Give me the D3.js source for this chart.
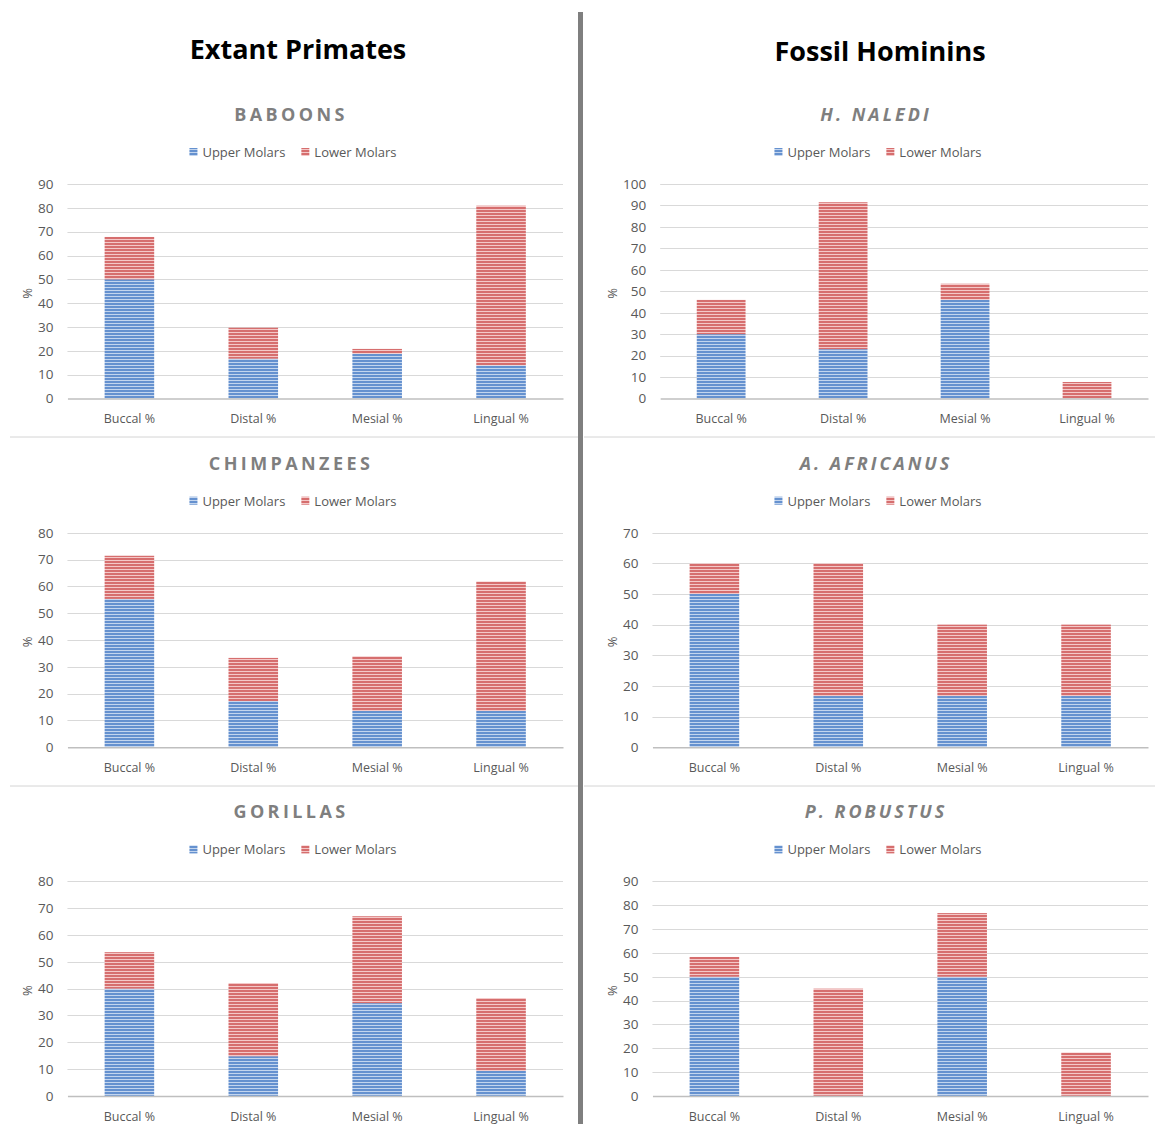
<!DOCTYPE html>
<html>
<head>
<meta charset="utf-8">
<script src="https://cdn.jsdelivr.net/npm/d3@7"></script>
<style>
  body { margin: 0; background: #fff; }
  svg { display: block; }
  text { font-family: "Open Sans", "DejaVu Sans", sans-serif; }
</style>
</head>
<body>
<svg id="chart" width="1155" height="1124"></svg>
<script>
// ---- data ----
const categories = ["Buccal %", "Distal %", "Mesial %", "Lingual %"];
const seriesNames = ["Upper Molars", "Lower Molars"];
const columnTitles = ["Extant Primates", "Fossil Hominins"];

const baboonsUpper = [50, 16.7, 18.8, 13.9];
const baboonsLower = [17.8, 13.0, 2.0, 67.0];

const chimpanzeesUpper = [55.3, 17.2, 13.5, 13.5];
const chimpanzeesLower = [16.1, 16.1, 20.4, 48.3];

const gorillasUpper = [40, 14.8, 34.6, 9.3];
const gorillasLower = [13.6, 27.3, 32.4, 27.2];

const nalediUpper = [30, 23, 46, 0];
const nalediLower = [16, 68.5, 7.5, 7.7];

const africanusUpper = [50, 16.7, 16.7, 16.7];
const africanusLower = [10, 43.3, 23.3, 23.3];

const robustusUpper = [50, 0, 50, 0];
const robustusLower = [8.3, 45, 26.7, 18.2];

// y-axis maxima (ticks every 10)
const axisMax = { baboons: 90, chimpanzees: 80, gorillas: 80, naledi: 100, africanus: 70, robustus: 90 };

const panels = [
  { title: "BABOONS",      italic: false, col: 0, row: 0, upper: baboonsUpper,     lower: baboonsLower,     max: axisMax.baboons },
  { title: "CHIMPANZEES",  italic: false, col: 0, row: 1, upper: chimpanzeesUpper, lower: chimpanzeesLower, max: axisMax.chimpanzees },
  { title: "GORILLAS",     italic: false, col: 0, row: 2, upper: gorillasUpper,    lower: gorillasLower,    max: axisMax.gorillas },
  { title: "H. NALEDI",    italic: true,  col: 1, row: 0, upper: nalediUpper,      lower: nalediLower,      max: axisMax.naledi },
  { title: "A. AFRICANUS", italic: true,  col: 1, row: 1, upper: africanusUpper,   lower: africanusLower,   max: axisMax.africanus },
  { title: "P. ROBUSTUS",  italic: true,  col: 1, row: 2, upper: robustusUpper,    lower: robustusLower,    max: axisMax.robustus }
];

// ---- layout ----
const svg = d3.select("#chart");
const colOffset = 585;
const rowOffset = 348.7;
const colCenter = [291, 876];
const tickFont = 13.5;

// striped fills
const defs = svg.append("defs");
function stripePattern(id, dark, light) {
  const p = defs.append("pattern").attr("id", id)
    .attr("patternUnits", "userSpaceOnUse").attr("width", 6).attr("height", 3);
  p.append("rect").attr("width", 6).attr("height", 3).attr("fill", dark);
  p.append("rect").attr("y", 2).attr("width", 6).attr("height", 1).attr("fill", light);
}
stripePattern("stripeUpper", "#6591cf", "#c3d5ee");
stripePattern("stripeLower", "#d66e6e", "#f4c8c8");
const seriesFill = ["url(#stripeUpper)", "url(#stripeLower)"];
const seriesKeys = ["upper", "lower"];

// column headings
columnTitles.forEach((t, i) => {
  svg.append("text")
    .attr("x", [298, 880][i]).attr("y", [48, 50][i])
    .attr("text-anchor", "middle").attr("dominant-baseline", "central")
    .attr("font-size", 27).attr("font-weight", 700).attr("fill", "#000")
    .text(t);
});

// separators
[437, 786].forEach(y => {
  svg.append("line").attr("x1", 10).attr("x2", 578).attr("y1", y).attr("y2", y)
    .attr("stroke", "#d4d4d4").attr("stroke-width", 1);
  svg.append("line").attr("x1", 584).attr("x2", 1155).attr("y1", y).attr("y2", y)
    .attr("stroke", "#d4d4d4").attr("stroke-width", 1);
});
svg.append("rect").attr("x", 578).attr("y", 12).attr("width", 5).attr("height", 1112)
  .attr("fill", "#7f7f7f");

const measurer = svg.append("text").attr("opacity", 0);
function textWidth(str, size) {
  measurer.attr("font-size", size).text(str);
  return measurer.node().getComputedTextLength();
}

panels.forEach(p => {
  const ox = p.col * colOffset;
  const oy = p.row * rowOffset;
  const g = svg.append("g");

  const top = 184 + oy, bottom = 398.5 + oy;
  const ticks = d3.range(0, p.max + 1, 10);
  const labelStart = 38 + ox;
  const maxW = d3.max(ticks, t => textWidth(String(t), tickFont));
  const plotLeft = labelStart + maxW + 14;
  const plotRight = 563 + ox;

  const x = d3.scaleBand().domain(categories).range([plotLeft, plotRight]).padding(0);
  const y = d3.scaleLinear().domain([0, p.max]).range([bottom, top]);

  // title
  g.append("text")
    .attr("x", colCenter[p.col]).attr("y", 114 + oy)
    .attr("text-anchor", "middle").attr("dominant-baseline", "central")
    .attr("font-size", 18).attr("font-weight", 700)
    .attr("font-style", p.italic ? "italic" : "normal")
    .attr("letter-spacing", p.italic ? "3px" : "3.4px")
    .attr("fill", "#7f7f7f").text(p.title);

  // legend
  const legendY = 152 + oy;
  const itemW = seriesNames.map(s => 13 + textWidth(s, 13));
  const gap = 16;
  const totalW = d3.sum(itemW) + gap;
  let lx = colCenter[p.col] + 2 - totalW / 2;
  seriesNames.forEach((s, i) => {
    g.append("rect").attr("x", lx).attr("y", legendY - 4).attr("width", 8).attr("height", 8)
      .attr("fill", seriesFill[i]);
    g.append("text").attr("x", lx + 13).attr("y", legendY)
      .attr("dominant-baseline", "central").attr("font-size", 13).attr("fill", "#595959")
      .text(s);
    lx += itemW[i] + gap;
  });

  // gridlines
  g.append("g").selectAll("line").data(ticks.filter(t => t > 0)).join("line")
    .attr("x1", plotLeft).attr("x2", plotRight)
    .attr("y1", d => Math.round(y(d)) + 0.5).attr("y2", d => Math.round(y(d)) + 0.5)
    .attr("stroke", "#d9d9d9").attr("stroke-width", 1);

  // y axis labels
  const yAxis = d3.axisLeft(y).tickValues(ticks).tickSize(0).tickPadding(14);
  const ya = g.append("g").attr("transform", `translate(${plotLeft},0)`).call(yAxis);
  ya.select(".domain").remove();
  ya.selectAll("text").attr("font-size", tickFont).attr("fill", "#595959")
    .attr("font-family", "\"Open Sans\", sans-serif");

  // y title
  g.append("text")
    .attr("transform", `translate(${27 + ox},${(top + bottom) / 2 + 2}) rotate(-90)`)
    .attr("text-anchor", "middle").attr("dominant-baseline", "central")
    .attr("font-size", 13).attr("fill", "#595959").text("%");

  // stacked bars
  const rows = categories.map((c, i) => ({ cat: c, upper: p.upper[i], lower: p.lower[i] }));
  const stacked = d3.stack().keys(seriesKeys)(rows);
  const barW = x.bandwidth() * 0.4;
  stacked.forEach((layer, si) => {
    g.append("g").selectAll("rect").data(layer).join("rect")
      .attr("x", d => x(d.data.cat) + (x.bandwidth() - barW) / 2)
      .attr("width", barW)
      .attr("y", d => y(d[1]))
      .attr("height", d => Math.max(0, y(d[0]) - y(d[1])))
      .attr("fill", seriesFill[si]);
  });

  // x axis
  const xAxis = d3.axisBottom(x).tickSize(0).tickPadding(16);
  const xa = g.append("g").attr("transform", `translate(0,${bottom})`).call(xAxis);
  xa.select(".domain").attr("stroke", "#bfbfbf").attr("stroke-width", 1.5);
  xa.selectAll("text").attr("font-size", 12.5).attr("fill", "#595959")
    .attr("font-family", "\"Open Sans\", sans-serif");
});
measurer.remove();
</script>
</body>
</html>
